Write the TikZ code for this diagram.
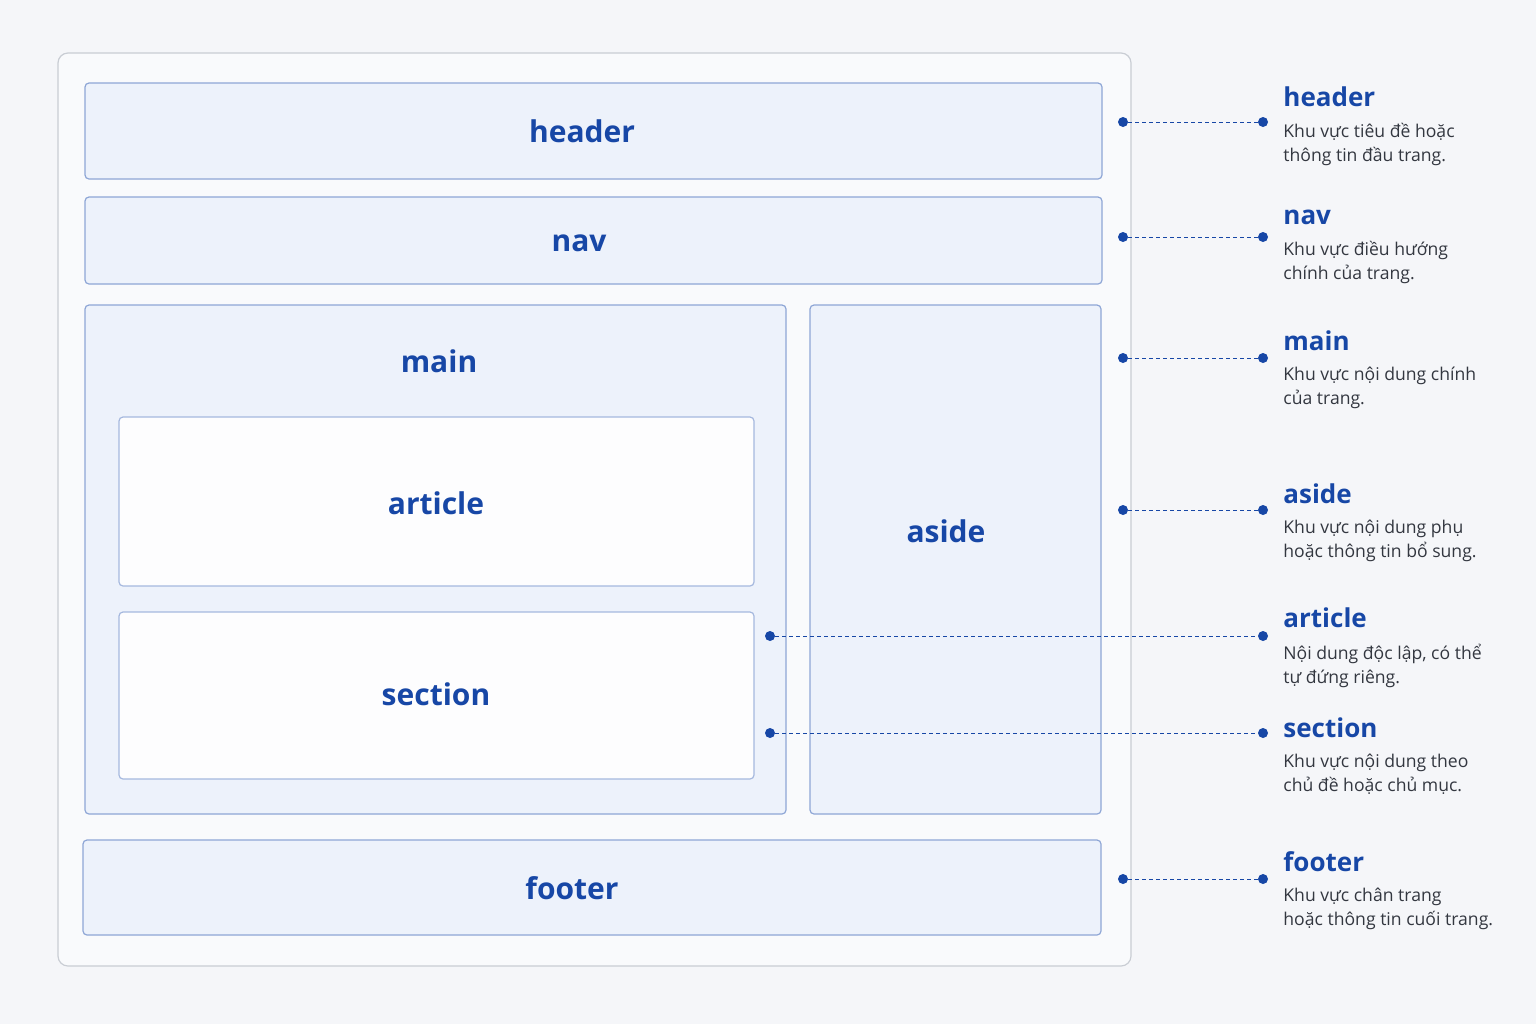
\documentclass[tikz,border=0pt]{standalone}
\usepackage{fontspec}
\setmainfont{Open Sans}
\definecolor{bg}{HTML}{F5F6F9}
\definecolor{frame}{HTML}{F9FAFC}
\definecolor{framel}{HTML}{C9CDD4}
\definecolor{boxf}{HTML}{EDF2FB}
\definecolor{boxl}{HTML}{8EA6D6}
\definecolor{tblue}{HTML}{1747A6}
\definecolor{dgray}{HTML}{333740}
\begin{document}
\begin{tikzpicture}[x=0.5pt,y=-0.5pt,
  box/.style={draw=boxl,fill=boxf,line width=0.6pt,rounded corners=2pt},
  wbox/.style={draw=boxl!80,fill=white!60!frame,line width=0.6pt,rounded corners=2pt},
  lbl/.style={text=tblue,font=\bfseries\fontsize{15}{18}\selectfont},
  ttl/.style={text=tblue,font=\bfseries\fontsize{13}{15}\selectfont,anchor=base west},
  dsc/.style={text=dgray,font=\fontsize{8.8}{12}\selectfont,anchor=north west,align=left,inner sep=0pt},
  dot/.style={circle,fill=tblue,inner sep=0pt,minimum size=5pt},
  con/.style={draw=tblue,dashed,dash pattern=on 2pt off 1.5pt,line width=0.5pt}]
\fill[bg] (0,0) rectangle (1536,1024);
\useasboundingbox (0,0) rectangle (1536,1024);
\draw[fill=frame,draw=framel,line width=0.6pt,rounded corners=5pt] (58,53) rectangle (1131,966);
\draw[box] (85,83) rectangle (1102,179); \node[lbl] (header) at (582,131) {header};
\draw[box] (85,197) rectangle (1102,284); \node[lbl] (nav) at (579,243) {nav};
\draw[box] (85,305) rectangle (786,814); \node[lbl] (main) at (439,361) {main};
\draw[wbox] (119,417) rectangle (754,586); \node[lbl] (article) at (436,503) {article};
\draw[wbox] (119,612) rectangle (754,779); \node[lbl] (section) at (436,694) {section};
\draw[box] (810,305) rectangle (1101,814); \node[lbl] (aside) at (946,531) {aside};
\draw[box] (83,840) rectangle (1101,935); \node[lbl] (footer) at (572,888) {footer};
\foreach \n/\xa/\y in {h/1123/122,n/1123/237,m/1123/358,a/1123/510,ar/770/636,s/770/733,f/1123/879}{
  \node[dot] (\n1) at (\xa,\y) {};
  \node[dot] (\n2) at (1263,\y) {};
  \draw[con] (\n1) -- (\n2);
}
\foreach \t/\y/\d in {header/106/{Khu vực tiêu đề hoặc\\thông tin đầu trang.},
  nav/224/{Khu vực điều hướng\\chính của trang.},
  main/350/{Khu vực nội dung chính\\của trang.},
  aside/503/{Khu vực nội dung phụ\\hoặc thông tin bổ sung.},
  article/627/{Nội dung độc lập, có thể\\tự đứng riêng.},
  section/737/{Khu vực nội dung theo\\chủ đề hoặc chủ mục.},
  footer/871/{Khu vực chân trang\\hoặc thông tin cuối trang.}}{
  \node[ttl,inner sep=0pt] (t\t) at (1283,\y) {\t};
  \node[dsc] (d\t) at (1283,\y+17) {\d};
}
\end{tikzpicture}
\end{document}
